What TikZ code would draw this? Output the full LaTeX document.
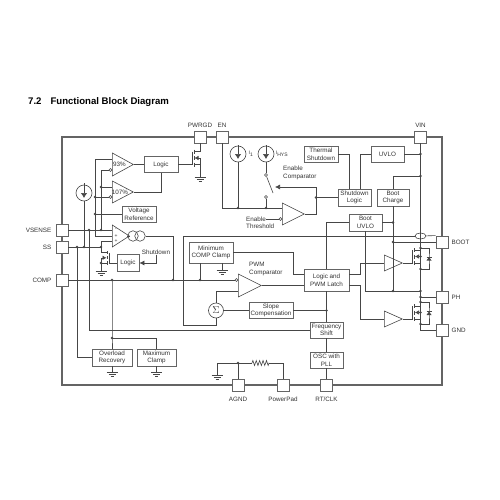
\documentclass[tikz,border=0pt]{standalone}
\usepackage{fontspec}
\setmainfont{Liberation Sans}
\usetikzlibrary{arrows.meta,calc,positioning,shapes.geometric,decorations.pathmorphing}

\begin{document}
\begin{tikzpicture}[x=1pt,y=-1pt,line cap=butt,line join=miter]
  % ----- styles & colors -----
  \definecolor{wirecol}{RGB}{70,70,70}
  \definecolor{framecol}{RGB}{100,100,100}
  \definecolor{textcol}{RGB}{50,50,50}
  \tikzset{
    wire/.style={draw=wirecol,line width=0.6pt},
    outline/.style={draw=framecol,line width=1.1pt},
    txt/.style={inner sep=0pt,text=textcol,align=center,font=\fontsize{6.3}{7.5}\selectfont},
    block/.style 2 args={txt,wire,draw=framecol,line width=0.8pt,fill=white,minimum width=#1,minimum height=#2},
    pinbox/.style={draw=framecol,line width=0.8pt,fill=white,minimum size=12pt,inner sep=0pt},
    amp/.style 2 args={isosceles triangle,isosceles triangle stretches,shape border rotate=0,
      wire,fill=white,inner sep=0pt,anchor=lower side,minimum height=#1,minimum width=#2},
    bubble/.style={circle,wire,fill=white,minimum size=3pt,inner sep=0pt},
    isrc/.style={circle,wire,minimum size=16pt,inner sep=0pt,path picture={
      \draw[wire,line width=0.7pt,-{Latex[length=5pt,width=6.5pt]}] (path picture bounding box.north)
        -- ([yshift=-5pt]path picture bounding box.center);}},
    gm/.style={circle,wire,minimum size=10.5pt,inner sep=0pt},
    nfet/.pic={
      \draw[wire] (0,-13) -- (0,0);
      \draw[wire,line width=0.9pt] (2,-15) -- (2,-11) (2,-8.5) -- (2,-4.5) (2,-2) -- (2,2);
      \draw[wire] (2,-13) -- (8,-13) (2,0) -- (8,0);
      \draw[wire,{Latex[length=4pt,width=4.5pt]}-] (2.5,-6.5) -- (8,-6.5) -- (8,0);
      \coordinate (-gate) at (0,0);
      \coordinate (-drain) at (8,-13);
      \coordinate (-mid) at (8,-6.5);
      \coordinate (-source) at (8,0);
    },
    gnd/.pic={
      \draw[wire] (-5.5,0) -- (5.5,0) (-3.5,2) -- (3.5,2) (-1.5,4) -- (1.5,4);
      \coordinate (-top) at (0,0);
    },
    bodydiode/.pic={
      \fill[wirecol] (-2.5,2) -- (2.5,2) -- (0,-1.5) -- cycle;
      \draw[wire] (-2.5,-1.5) -- (2.5,-1.5);
    }
  }

  \useasboundingbox (0,0) rectangle (500,500);

  % ----- title -----
  \node[anchor=west,inner sep=0pt,text=black,font=\bfseries\fontsize{9.6}{12}\selectfont] (title) at (28,102) {7.2\hspace{9pt}Functional Block Diagram};

  % ----- outer frame -----
  \draw[outline] (62,137) rectangle (442,385);

  % ----- junctions -----
  \coordinate (bus101) at (101,230);
  \coordinate (bus95) at (95,236);
  \coordinate (j107a) at (101,187);
  \coordinate (j107b) at (95,197);
  \coordinate (jvref) at (95,214);
  \coordinate (jvs) at (89,230);
  \coordinate (jcs) at (84,247);
  \coordinate (jss) at (77,247);
  \coordinate (jsd) at (101,247);
  \coordinate (jcomp) at (112,280);
  \coordinate (jover) at (112,338);
  \coordinate (jgm) at (173,280);
  \coordinate (jclamp) at (200,280);
  \coordinate (jslope) at (326.5,310.5);
  \coordinate (jag) at (238,363);
  \coordinate (jI) at (238,208);
  \coordinate (jH) at (266,208);
  \coordinate (jfb) at (316,197.5);
  \coordinate (jvA) at (420.5,154);
  \coordinate (jvB) at (420.5,176);
  \coordinate (jbc) at (393,222.5);
  \coordinate (jbt) at (393,242);
  \coordinate (jbp) at (393,291);
  \coordinate (jph) at (420.5,291);
  \coordinate (jp2) at (420.5,297);
  \coordinate (jH1) at (420.5,248);
  \coordinate (jH3) at (420.5,269);
  \coordinate (jL1) at (420.5,302);
  \coordinate (jL3) at (420.5,324);
  % bends and free ends
  \coordinate (csAtop) at (84,183);
  \coordinate (csItop) at (238,145);
  \coordinate (csHtop) at (266,145);
  \coordinate (swEnd) at (273,193);
  \coordinate (swTip) at (275,187);
  \coordinate (fbTop) at (316,187);
  \coordinate (shA) at (349,189);
  \coordinate (shB) at (360,189);
  \coordinate (bendA) at (293,274);
  \coordinate (bendB) at (360,263);
  \coordinate (bendC) at (360,319);
  \coordinate (cnrB) at (183,325);
  \coordinate (cnrG) at (420.5,330);
  \coordinate (resL) at (252,363);
  \coordinate (resR) at (269,363);
  \coordinate (dHc) at (429,258.5);
  \coordinate (dLc) at (429,313);
  \coordinate (in93a) at (112,159);
  \coordinate (in107a) at (112,187);
  \coordinate (inEaA) at (112,230);
  \coordinate (inEaB) at (112,236);
  \coordinate (inEaC) at (112,241.5);
  \coordinate (inPwmB) at (238,291);
  \coordinate (inEnA) at (282,208);

  % ----- pins -----
  \node[pinbox] (pwrgd) at (200,137) {};
  \node[pinbox] (en) at (222,137) {};
  \node[pinbox] (vin) at (420.5,137) {};
  \node[pinbox] (vsense) at (62,230) {};
  \node[pinbox] (ss) at (62,247) {};
  \node[pinbox] (comp) at (62,280) {};
  \node[pinbox] (agnd) at (238,385) {};
  \node[pinbox] (powerpad) at (283,385) {};
  \node[pinbox] (rtclk) at (326.5,385) {};
  \node[pinbox] (boot) at (442,242) {};
  \node[pinbox] (ph) at (442,297) {};
  \node[pinbox] (gndpin) at (442,330) {};
  \node[txt,above=3pt of pwrgd] (pwrgdtxt) {PWRGD};
  \node[txt,above=3pt of en] (entxt) {EN};
  \node[txt,above=3pt of vin] (vintxt) {VIN};
  \node[txt,left=4pt of vsense] (vsensetxt) {VSENSE};
  \node[txt,left=4pt of ss] (sstxt) {SS};
  \node[txt,left=4pt of comp] (comptxt) {COMP};
  \node[txt,below=5pt of agnd] (agndtxt) {AGND};
  \node[txt,below=5pt of powerpad] (powerpadtxt) {PowerPad};
  \node[txt,below=5pt of rtclk] (rtclktxt) {RT/CLK};
  \node[txt,right=3pt of boot] (boottxt) {BOOT};
  \node[txt,right=3pt of ph] (phtxt) {PH};
  \node[txt,right=3pt of gndpin] (gndtxt) {GND};

  % ----- blocks -----
  \node[block={34pt}{16pt}] (logicA) at (161,164.5) {Logic};
  \node[block={34pt}{16pt}] (vref) at (139,214) {Voltage\\Reference};
  \node[block={22pt}{17pt}] (logicB) at (128,263) {Logic};
  \node[block={44pt}{21pt}] (minclamp) at (211,252.5) {Minimum\\COMP Clamp};
  \node[block={44pt}{16pt}] (slope) at (271,310.5) {Slope\\Compensation};
  \node[block={45pt}{22pt}] (latch) at (326.5,280) {Logic and\\PWM Latch};
  \node[block={34pt}{16pt}] (thermal) at (321,154) {Thermal\\Shutdown};
  \node[block={33pt}{16pt}] (uvlo) at (387.5,154) {UVLO};
  \node[block={33pt}{17pt}] (shutlogic) at (354.5,197.5) {Shutdown\\Logic};
  \node[block={32pt}{17pt}] (bootcharge) at (393,197.5) {Boot\\Charge};
  \node[block={33pt}{17pt}] (bootuvlo) at (365.5,222.5) {Boot\\UVLO};
  \node[block={33pt}{16pt}] (freq) at (326.5,330) {Frequency\\Shift};
  \node[block={33pt}{16pt}] (osc) at (326.5,360) {OSC with\\PLL};
  \node[block={40pt}{17pt}] (overload) at (112,357.5) {Overload\\Recovery};
  \node[block={39pt}{17pt}] (maxclamp) at (156.5,357.5) {Maximum\\Clamp};

  % ----- current sources, switch -----
  \node[isrc] (csA) at (84,193) {};
  \node[isrc] (csI) at (238,154) {};
  \node[isrc] (csH) at (266,154) {};
  \node[txt,font=\fontsize{5}{6}\selectfont] (csItxt) at (251,154) {I\textsubscript{1}};
  \node[txt,font=\fontsize{5}{6}\selectfont] (csHtxt) at (282,154) {I\textsubscript{HYS}};
  \node[bubble] (swTop) at (266,175) {};
  \node[bubble] (swBot) at (266,197) {};

  % ----- amplifiers -----
  \node[amp={21pt}{23pt}] (amp93) at (112,164.5) {};
  \node[amp={21pt}{22pt}] (amp107) at (112,192) {};
  \node[amp={17pt}{22pt}] (ampEa) at (112,236) {};
  \node[amp={23pt}{23pt}] (ampPwm) at (238,285.5) {};
  \node[amp={22pt}{22pt}] (ampEn) at (282,214) {};
  \node[amp={18pt}{16pt}] (drvH) at (384,263) {};
  \node[amp={18pt}{16pt}] (drvL) at (384,319) {};
  \node[txt] (amp93txt) at (119.5,164) {93\%};
  \node[txt] (amp107txt) at (120,192) {107\%};
  \node[txt,font=\fontsize{5}{5}\selectfont] (signA) at (116,230) {-};
  \node[txt,font=\fontsize{5}{5}\selectfont] (signB) at (116,236) {+};
  \node[txt,font=\fontsize{5}{5}\selectfont] (signC) at (116,241.5) {+};
  \node[bubble] (b93) at (110.5,170) {};
  \node[bubble] (b107) at (110.5,197) {};
  \node[bubble] (bPwm) at (236.5,280) {};
  \node[bubble] (bEn) at (280.5,219) {};
  \node[gm] (gmA) at (133,236) {};
  \node[gm] (gmB) at (140,236) {};
  \node[circle,wire,minimum size=15pt,inner sep=0pt,text=textcol] (sum) at (216,310.5) {$\Sigma$};
  \node[ellipse,wire,minimum width=11pt,minimum height=6pt,inner sep=0pt] (sense) at (420.5,236) {};

  % ----- free text -----
  \node[txt,align=left,anchor=west] (enCmp) at (283,173) {Enable\\Comparator};
  \node[txt,anchor=west] (enA) at (246,219) {Enable};
  \node[txt,anchor=west] (enB) at (246,226.5) {Threshold};
  \node[txt,align=left,anchor=west] (pwmCmp) at (249,269) {PWM\\Comparator};
  \node[txt] (shuttxt) at (156,252) {Shutdown};

  % ----- mosfets, grounds -----
  \pic (fetA) at (192,164.5) {nfet};
  \pic[xscale=-1,yscale=.8] (fetS) at (109,263) {nfet};
  \pic (fetH) at (412.5,263) {nfet};
  \pic (fetL) at (412.5,319) {nfet};
  \pic at (dHc) {bodydiode};
  \pic at (dLc) {bodydiode};
  \pic (gndA) at (200,177) {gnd};
  \pic (gndS) at (101,271) {gnd};
  \pic (gndB) at (222,270) {gnd};
  \pic (gndC) at (112,372) {gnd};
  \pic (gndD) at (156.5,372) {gnd};
  \pic (gndE) at (217,375) {gnd};

  % ----- connectors, left side -----
  \draw[wire] (in93a) -| (bus95) -- (inEaB);
  \draw[wire] (b93) -| (bus101);
  \draw[wire] (in107a) -- (j107a);
  \draw[wire] (b107) -- (j107b);
  \draw[wire] (vref) -- (jvref);
  \draw[wire] (vsense) -- (inEaA);
  \draw[wire] (jvs) |- (freq);
  \draw[wire] (ss) -- (jsd) -- (fetS-drain);
  \draw[wire] (jsd) |- (inEaC);
  \draw[wire] (csAtop) -- (csA) -- (jcs);
  \draw[wire] (jss) |- (overload);
  \draw[wire] (fetS-source) -- (gndS-top);
  \draw[wire] (logicB) -- (fetS-gate);
  \draw[wire,-{Latex[length=5pt,width=5pt]}] (shuttxt.south) |- (logicB);
  \draw[wire] (amp93.apex) -- (logicA);
  \draw[wire] (amp107.apex) -| (logicA);
  \draw[wire] (logicA) -- (fetA-gate);
  \draw[wire] (pwrgd) -- (fetA-drain);
  \draw[wire] (fetA-source) -- (gndA-top);
  \draw[wire] (ampEa.apex) -- (gmA);
  \draw[wire] (gmB) -| (jgm);

  % ----- connectors, middle -----
  \draw[wire] (comp) -- (bPwm);
  \draw[wire] (jcomp) -- (jover) -- (overload);
  \draw[wire] (jover) -| (maxclamp);
  \draw[wire] (overload) -- (gndC-top);
  \draw[wire] (maxclamp) -- (gndD-top);
  \draw[wire] (jclamp |- minclamp.south) -- (jclamp);
  \draw[wire] (gndB-top |- minclamp.south) -- (gndB-top);
  \draw[wire] (minclamp) -| (bendA) -- (bendA -| latch.west);
  \draw[wire] (sense) -| (cnrB) -| (sum);
  \draw[wire] (sum) |- (inPwmB);
  \draw[wire] (sum) -- (slope);
  \draw[wire] (slope) -- (jslope);
  \draw[wire] (ampPwm.apex) -- (ampPwm.apex -| latch.west);
  \draw[wire] (bootuvlo) -| (latch);
  \draw[wire] (latch) -- (freq);
  \draw[wire] (freq) -- (osc);
  \draw[wire] (osc) -- (rtclk);
  \draw[wire] (agnd) -- (jag) -| (gndE-top);
  \draw[wire] (jag) -- (resL);
  \draw[wire,decorate,decoration={zigzag,amplitude=2.5pt,segment length=3.4pt}] (resL) -- (resR);
  \draw[wire] (resR) -| (powerpad);

  % ----- connectors, enable -----
  \draw[wire] (en) |- (inEnA);
  \draw[wire] (csItop) -- (csI) -- (jI);
  \draw[wire] (csHtop) -- (csH) -- (swTop);
  \draw[wire] (swTop) -- (swEnd);
  \draw[wire] (swBot) -- (jH);
  \draw[wire] (enA) -- (bEn);
  \draw[wire,-{Latex[length=5pt,width=5pt]}] (ampEn.apex) -| (fbTop) -- (swTip);
  \draw[wire] (jfb) -- (shutlogic);
  \draw[wire] (thermal) -| (shA);
  \draw[wire] (uvlo) -| (shB);
  \draw[wire] (uvlo) -- (jvA);

  % ----- connectors, right side -----
  \draw[wire] (vin) -- (cnrG) -- (gndpin);
  \draw[wire] (jvB) -| (bootcharge);
  \draw[wire] (bootcharge) -- (jbp);
  \draw[wire] (bootuvlo) -- (jbc);
  \draw[wire] (jbt) -- (boot);
  \draw[wire] (bootuvlo) |- (jph);
  \draw[wire] (jp2) -- (ph);
  \draw[wire] (sense) -- (boot.north west);
  \draw[wire] (latch.east |- bendA) -| (bendB) -- (drvH.lower side);
  \draw[wire] (latch.east |- ampPwm.apex) -| (bendC) -- (drvL.lower side);
  \draw[wire] (drvH.apex) -- (fetH-gate);
  \draw[wire] (drvL.apex) -- (fetL-gate);
  \draw[wire] (jH1) -| (dHc) |- (jH3);
  \draw[wire] (jL1) -| (dLc) |- (jL3);

  % ----- dots -----
  \foreach \J in {j107a,j107b,jvref,bus101,jvs,jcs,jss,jsd,jcomp,jover,jgm,jclamp,jslope,jag,jI,jH,jfb,
    jvA,jvB,jbc,jbt,jbp,jph,jp2,jH1,jH3,jL1,jL3,fetH-mid,fetL-mid,fetS-source}{
    \fill[wirecol] (\J) circle (1.3);
  }
\end{tikzpicture}
\end{document}
